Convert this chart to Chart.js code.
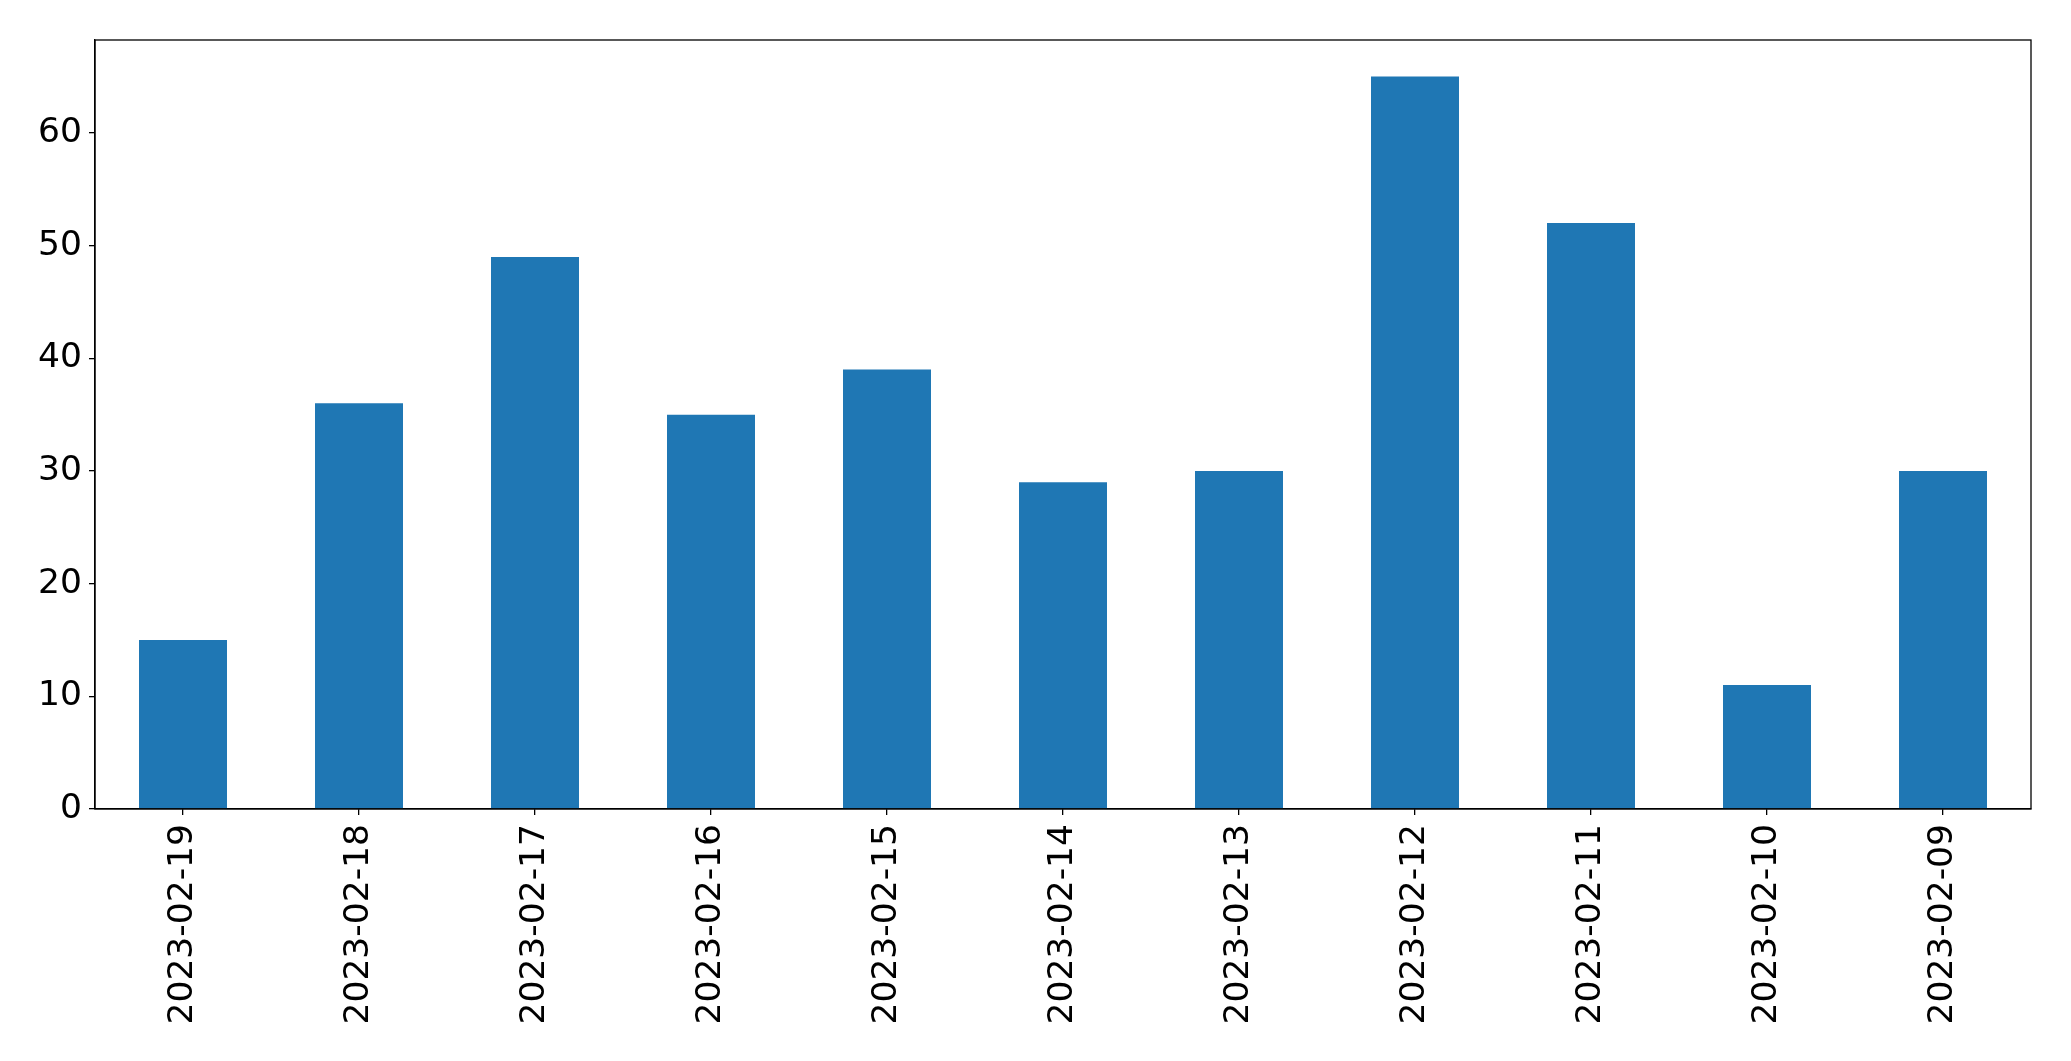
<!DOCTYPE html>
<html>
<head>
<meta charset="utf-8">
<script src="https://cdn.jsdelivr.net/npm/chart.js@4/dist/chart.umd.min.js"></script>
<style>
  html, body { margin: 0; padding: 0; background: #ffffff; }
  #wrap { width: 2071px; height: 1061px; }
</style>
</head>
<body>
<div id="wrap"><canvas id="grafico" width="2071" height="1061"></canvas></div>
<script>
const datas = ["2023-02-19", "2023-02-18", "2023-02-17", "2023-02-16", "2023-02-15", "2023-02-14",
  "2023-02-13", "2023-02-12", "2023-02-11", "2023-02-10", "2023-02-09"];
const valores = [15, 36, 49, 35, 39, 29, 30, 65, 52, 11, 30];
const ticksY = [0, 10, 20, 30, 40, 50, 60];

// moldura do grafico (lados de cima e direita)
const moldura = {
  id: 'moldura',
  afterDraw(chart) {
    const a = chart.chartArea;
    const c = chart.ctx;
    c.save();
    c.strokeStyle = '#000000';
    c.lineWidth = 1.3;
    c.strokeRect(a.left, a.top, a.right - a.left, a.bottom - a.top);
    c.restore();
  }
};

const ctx = document.getElementById('grafico').getContext('2d');
const grafico = new Chart(ctx, {
  type: 'bar',
  data: {
    labels: datas,
    datasets: [{
      data: valores,
      backgroundColor: '#1f77b4',
      borderWidth: 0,
      barPercentage: 0.5,
      categoryPercentage: 1.0
    }]
  },
  options: {
    responsive: false,
    animation: false,
    layout: { padding: { top: 40, right: 40, left: 0, bottom: 0 } },
    plugins: {
      legend: { display: false },
      tooltip: { enabled: false }
    },
    scales: {
      x: {
        offset: true,
        grid: { display: true, offset: false, drawOnChartArea: false, drawTicks: true, tickLength: 6, color: '#000000', lineWidth: 1.3 },
        border: { display: true, color: '#000000', width: 1.3 },
        ticks: {
          minRotation: 90,
          maxRotation: 90,
          autoSkip: false,
          padding: 9,
          color: '#000000',
          font: { family: 'DejaVu Sans', size: 34.5 }
        },
        afterFit: (scale) => { scale.height = 252; }
      },
      y: {
        min: 0,
        max: 68.25,
        afterBuildTicks: (scale) => { scale.ticks = ticksY.map(v => ({ value: v })); },
        grid: { display: true, drawOnChartArea: false, drawTicks: true, tickLength: 6, color: '#000000', lineWidth: 1.3 },
        border: { display: true, color: '#000000', width: 1.3 },
        ticks: {
          padding: 7,
          color: '#000000',
          font: { family: 'DejaVu Sans', size: 34.5 }
        },
        afterFit: (scale) => { scale.width = 95; }
      }
    }
  },
  plugins: [moldura]
});
</script>
</body>
</html>
